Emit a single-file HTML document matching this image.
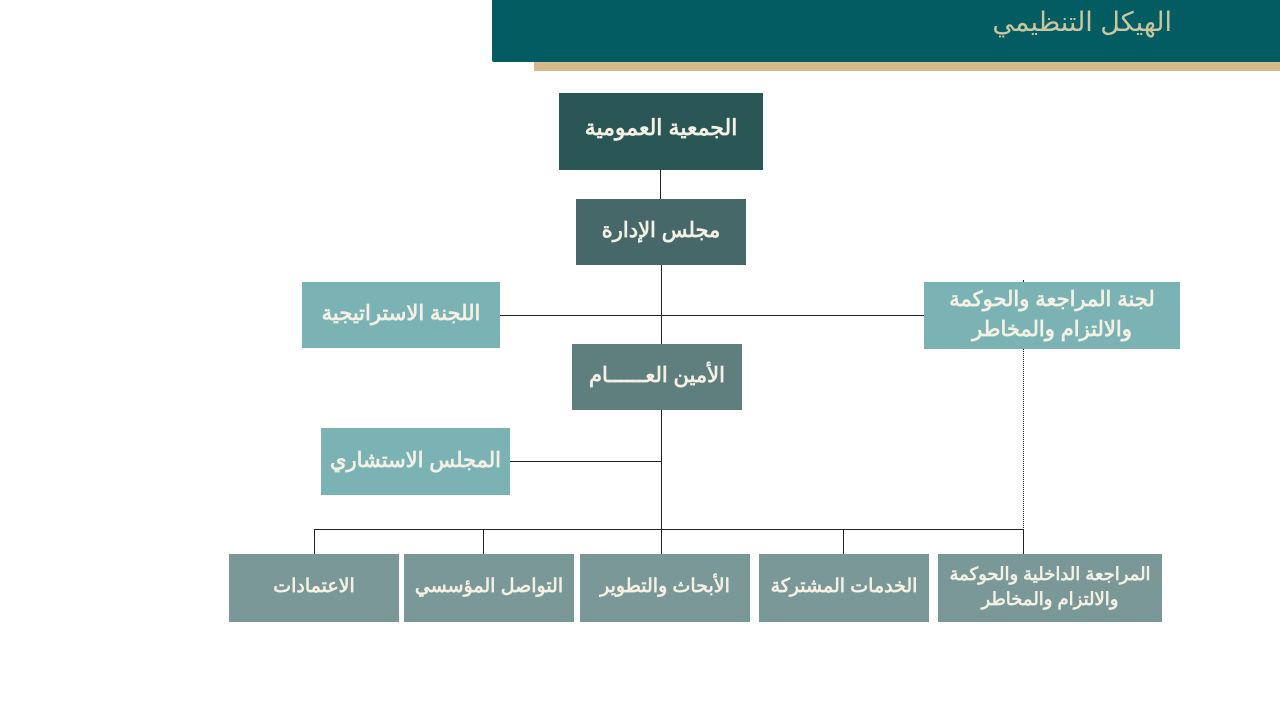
<!DOCTYPE html>
<html><head><meta charset="utf-8"><style>
body{margin:0;width:1280px;height:720px;background:#fff;position:relative;overflow:hidden;font-family:"Liberation Sans","Noto Sans CJK SC",sans-serif;}
.b{position:absolute;display:flex;align-items:center;justify-content:center;text-align:center;color:#f4f1e4;font-weight:bold;direction:rtl;line-height:1.4;box-sizing:border-box;padding-bottom:2px;}
.l{position:absolute;background:#222;}
</style></head><body>
<div style="position:absolute;left:534px;top:58px;width:746px;height:13px;background:#d4b98c;"></div>
<div style="position:absolute;left:492px;top:0;width:788px;height:62px;background:#035c61;border-bottom-left-radius:2px;"></div>
<div style="position:absolute;right:108px;top:7px;white-space:nowrap;font-size:27px;color:#c9c7a0;direction:rtl;">الهيكل التنظيمي</div>

<div class="l" style="left:660px;top:169px;width:1px;height:30px"></div>
<div class="l" style="left:661px;top:265px;width:1px;height:80px"></div>
<div class="l" style="left:500px;top:315px;width:424px;height:1px"></div>
<div class="l" style="left:661px;top:410px;width:1px;height:144px"></div>
<div class="l" style="left:510px;top:461px;width:151px;height:1px"></div>
<div class="l" style="left:314px;top:529px;width:710px;height:1px"></div>
<div style="position:absolute;left:1023px;top:280px;width:0;height:250px;border-left:1px dotted #222"></div>
<div class="l" style="left:1023px;top:529px;width:1px;height:25px"></div>
<div class="l" style="left:314px;top:529px;width:1px;height:25px"></div>
<div class="l" style="left:483px;top:529px;width:1px;height:25px"></div>
<div class="l" style="left:843px;top:529px;width:1px;height:25px"></div>

<div class="b" style="left:559px;top:93px;width:204px;height:77px;background:#2a5656;font-size:22px;padding-bottom:7px">الجمعية العمومية</div>
<div class="b" style="left:576px;top:199px;width:170px;height:66px;background:#466868;font-size:21px">مجلس الإدارة</div>
<div class="b" style="left:302px;top:282px;width:198px;height:66px;background:#7bb3b5;font-size:21px">اللجنة الاستراتيجية</div>
<div class="b" style="left:924px;top:282px;width:256px;height:67px;background:#7bb3b5;font-size:21px">لجنة المراجعة والحوكمة<br>والالتزام والمخاطر</div>
<div class="b" style="left:572px;top:344px;width:170px;height:66px;background:#5f7e7e;font-size:21px">الأمين العــــــام</div>
<div class="b" style="left:321px;top:428px;width:189px;height:67px;background:#7bb3b5;font-size:21px">المجلس الاستشاري</div>

<div class="b" style="left:229px;top:554px;width:170px;height:68px;background:#7a9897;font-size:19px">الاعتمادات</div>
<div class="b" style="left:404px;top:554px;width:170px;height:68px;background:#7a9897;font-size:19px">التواصل المؤسسي</div>
<div class="b" style="left:580px;top:554px;width:170px;height:68px;background:#7a9897;font-size:19px">الأبحاث والتطوير</div>
<div class="b" style="left:759px;top:554px;width:170px;height:68px;background:#7a9897;font-size:19px">الخدمات المشتركة</div>
<div class="b" style="left:938px;top:554px;width:224px;height:68px;background:#7a9897;font-size:18px">المراجعة الداخلية والحوكمة<br>والالتزام والمخاطر</div>
</body></html>
